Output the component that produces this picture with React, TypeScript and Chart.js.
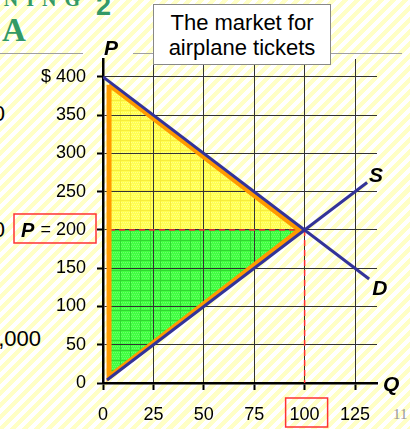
import React, { useEffect, useRef } from 'react';
import { Chart, registerables } from 'chart.js';

Chart.register(...registerables);

// ---- data ----
const xTickValues = [0, 25, 50, 75, 100, 125];
const yTickValues = [0, 50, 100, 150, 200, 250, 300, 350, 400];
const demandLine = [{ x: 0, y: 400 }, { x: 132, y: 136 }];
const supplyLine = [{ x: 2, y: 4 }, { x: 131, y: 262 }];
const consumerSurplus = [{ x: 3, y: 390 }, { x: 97.5, y: 200 }, { x: 3, y: 200 }, { x: 3, y: 390 }];
const producerSurplus = [{ x: 3, y: 200 }, { x: 97.5, y: 200 }, { x: 3, y: 8 }, { x: 3, y: 200 }];
const surplusOutline = [{ x: 3, y: 390 }, { x: 97.5, y: 200 }, { x: 3, y: 8 }, { x: 3, y: 390 }];
const priceLine = [{ x: 3, y: 200 }, { x: 100, y: 200 }];
const quantityLine = [{ x: 100, y: 200 }, { x: 100, y: 0 }];
const eqPrice = 200;
const eqQuantity = 100;
const titleLines = ['The market for', 'airplane tickets'];

const SANS = '"Liberation Sans", Arial, sans-serif';
const SERIF = '"Liberation Serif", "Times New Roman", serif';

function makePattern(base: string, line: string, dot: string) {
  const c = document.createElement('canvas');
  c.width = 10;
  c.height = 10;
  const g = c.getContext('2d')!;
  g.fillStyle = base;
  g.fillRect(0, 0, 10, 10);
  g.fillStyle = dot;
  for (let i = 0; i < 10; i += 2) {
    for (let j = 0; j < 10; j += 2) {
      g.fillRect(i + ((j / 2) % 2), j, 1, 1);
    }
  }
  g.fillStyle = line;
  g.fillRect(0, 0, 10, 1);
  g.fillRect(0, 0, 1, 10);
  return g.createPattern(c, 'repeat')!;
}

const labelsPlugin = {
  id: 'labelsPlugin',
  afterDraw(chart: any) {
    const { ctx, scales } = chart;
    const x = scales.x;
    const y = scales.y;
    ctx.save();
    ctx.fillStyle = '#000';
    ctx.textBaseline = 'alphabetic';
    ctx.textAlign = 'left';
    ctx.font = `italic bold 21px ${SANS}`;
    // axis names
    ctx.fillText('P', x.getPixelForValue(0) + 1, y.top - 4);
    ctx.fillText('Q', x.right + 6, y.getPixelForValue(0) + 8);
    // curve names
    const sEnd = supplyLine[supplyLine.length - 1];
    ctx.fillText('S', x.getPixelForValue(sEnd.x) + 2, y.getPixelForValue(sEnd.y) - 1);
    const dEnd = demandLine[demandLine.length - 1];
    ctx.fillText('D', x.getPixelForValue(dEnd.x) + 3, y.getPixelForValue(dEnd.y) + 16);
    // P = 200 label
    const py = y.getPixelForValue(eqPrice);
    ctx.font = `italic bold 20px ${SANS}`;
    ctx.fillText('P', 21, py + 7);
    ctx.strokeStyle = '#FF3333';
    ctx.lineWidth = 1.5;
    ctx.strokeRect(14, py - 16, 82, 29);
    // Q = 100 box
    const qx = x.getPixelForValue(eqQuantity);
    ctx.strokeRect(qx - 19, 398, 42, 29);
    ctx.restore();
  },
};

export default function App() {
  const canvasRef = useRef<HTMLCanvasElement | null>(null);

  useEffect(() => {
    const canvas = canvasRef.current;
    if (!canvas) return;
    const yellow = makePattern('#FFFF50', '#F6EC3C', '#FFFF88');
    const green = makePattern('#40FF40', '#30D830', '#6CFF6C');
    const line = (data: any, extra: any) => ({
      data,
      pointRadius: 0,
      fill: false,
      tension: 0,
      ...extra,
    });
    const chart = new Chart(canvas, {
      type: 'line',
      data: {
        datasets: [
          line(demandLine, { borderColor: '#333399', borderWidth: 3, order: 0 }),
          line(supplyLine, { borderColor: '#333399', borderWidth: 3, order: 0 }),
          line(surplusOutline, { borderColor: '#FF9900', borderWidth: 5, borderJoinStyle: 'miter', order: 1 }),
          line(priceLine, { borderColor: '#FF3333', borderWidth: 1.5, borderDash: [6, 4], order: 2 }),
          line(quantityLine, { borderColor: '#FF3333', borderWidth: 1.5, borderDash: [6, 4], order: 2 }),
          line(consumerSurplus, { borderWidth: 0, borderColor: 'rgba(0,0,0,0)', backgroundColor: yellow, fill: 'shape', order: 5 }),
          line(producerSurplus, { borderWidth: 0, borderColor: 'rgba(0,0,0,0)', backgroundColor: green, fill: 'shape', order: 5 }),
        ],
      },
      options: {
        responsive: false,
        animation: false,
        devicePixelRatio: 1,
        layout: { padding: { top: 59, right: 33, left: 0, bottom: 0 } },
        plugins: {
          legend: { display: false },
          tooltip: { enabled: false },
          filler: { drawTime: 'beforeDraw' },
        },
        scales: {
          x: {
            type: 'linear',
            min: 0,
            max: 135.9,
            afterBuildTicks: (s: any) => {
              s.ticks = xTickValues.map((v) => ({ value: v }));
            },
            afterFit: (s: any) => {
              s.height = 46;
            },
            ticks: {
              color: '#000',
              font: { family: SANS, size: 18 },
              padding: 14,
              maxRotation: 0,
              autoSkip: false,
            },
            grid: { color: '#333', lineWidth: 1, tickLength: 7, tickColor: '#000', tickWidth: 2 },
            border: { color: '#000', width: 2.5 },
          },
          y: {
            type: 'linear',
            min: 0,
            max: 423.5,
            afterBuildTicks: (s: any) => {
              s.ticks = yTickValues.map((v) => ({ value: v }));
            },
            afterFit: (s: any) => {
              s.width = 103;
            },
            ticks: {
              color: '#000',
              font: { family: SANS, size: 18 },
              padding: 11,
              autoSkip: false,
              callback: (v: any) => (v === 400 ? '$ 400' : v === eqPrice ? '= 200' : String(v)),
            },
            grid: { color: '#333', lineWidth: 1, tickLength: 6, tickColor: '#000', tickWidth: 2 },
            border: { color: '#000', width: 2.5 },
          },
        },
      },
      plugins: [labelsPlugin],
    } as any);
    return () => chart.destroy();
  }, []);

  const green = '#339966';
  return (
    <div
      style={{
        position: 'absolute',
        left: 0,
        top: 0,
        width: 410,
        height: 429,
        overflow: 'hidden',
        background:
          'repeating-linear-gradient(135deg, #ffffff 0px, #ffffff 4.2px, #ffffc6 4.2px, #ffffc6 8.5px)',
        fontFamily: SANS,
      }}
    >
      {/* slide fragments */}
      <div style={{ position: 'absolute', right: 410 - 88, top: -12, font: `bold 20px ${SERIF}`, color: green, letterSpacing: 8, whiteSpace: 'nowrap' }}>
        ACTIVE LEARNING
      </div>
      <div style={{ position: 'absolute', left: 96, top: -9, font: `bold 27px ${SANS}`, color: green }}>2</div>
      <div style={{ position: 'absolute', left: 2, top: 12, font: `bold 33px ${SERIF}`, color: green }}>A</div>
      <div style={{ position: 'absolute', left: 0, top: 53, width: 83, height: 1, background: '#A0A0A0' }} />
      <div style={{ position: 'absolute', left: 133, top: 53, width: 269, height: 1, background: '#A0A0A0' }} />
      <div style={{ position: 'absolute', right: 410 - 5, top: 101, font: `22px ${SANS}`, color: '#000', whiteSpace: 'nowrap' }}>0</div>
      <div style={{ position: 'absolute', right: 410 - 5, top: 217, font: `22px ${SANS}`, color: '#000', whiteSpace: 'nowrap' }}>0</div>
      <div style={{ position: 'absolute', right: 410 - 41, top: 326, font: `22px ${SANS}`, color: '#000', whiteSpace: 'nowrap' }}>,000</div>
      <div style={{ position: 'absolute', left: 393, top: 406, font: `15px ${SERIF}`, color: '#999' }}>11</div>

      <canvas ref={canvasRef} width={410} height={429} style={{ position: 'absolute', left: 0, top: 0, width: 410, height: 429 }} />

      <div
        style={{
          position: 'absolute',
          left: 153,
          top: 4,
          width: 176,
          height: 54,
          border: '1px solid #888',
          background: '#fff',
          font: `22px ${SANS}`,
          lineHeight: '25px',
          textAlign: 'center',
          paddingTop: 5,
          boxSizing: 'content-box',
          color: '#000',
          whiteSpace: 'nowrap',
        }}
      >
        {titleLines.map((t) => (
          <div key={t}>{t}</div>
        ))}
      </div>
    </div>
  );
}
